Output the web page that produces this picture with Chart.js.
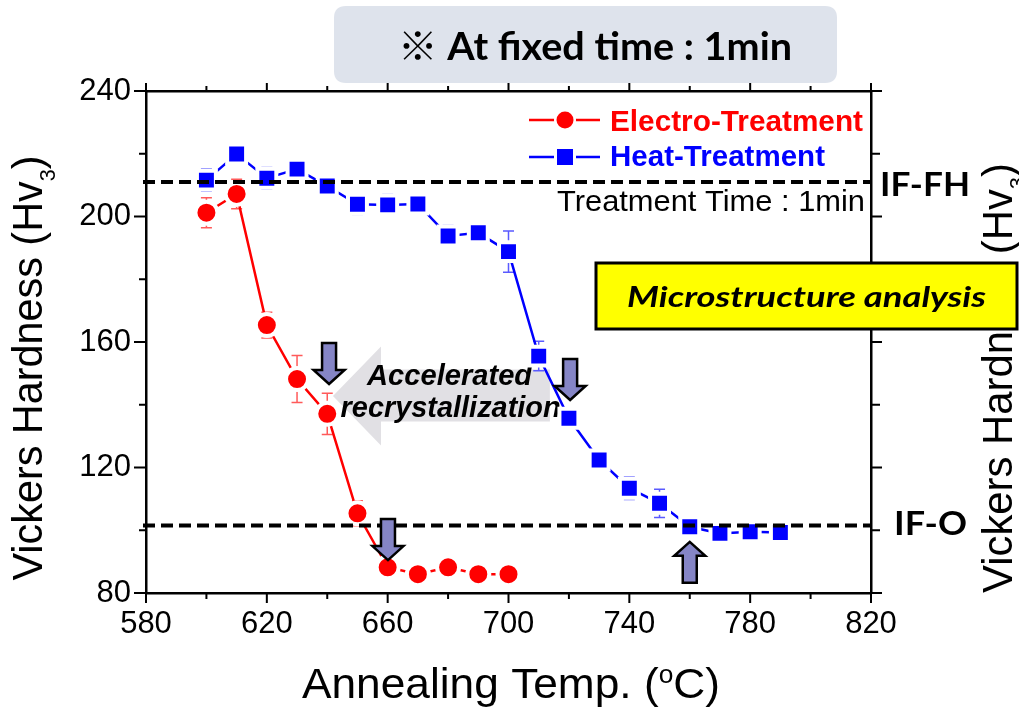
<!DOCTYPE html>
<html><head><meta charset="utf-8">
<script src="https://cdn.jsdelivr.net/npm/chart.js@4.4.1/dist/chart.umd.min.js"></script>
<style>html,body{margin:0;padding:0;background:#fff;overflow:hidden}</style>
</head><body>
<canvas id="c" width="1019" height="714" style="width:1019px;height:714px;display:block"></canvas>
<script>
// ---------- data ----------
const electroTemps = [600, 610, 620, 630, 640, 650, 660, 670, 680, 690, 700];
const electroHv    = [201.2, 207.2, 165.4, 148.2, 137.1, 105.4, 88.2, 86.0, 88.2, 86.0, 86.0];
const electroErr   = [4.8, 4.7, 4.1, 7.5, 6.6, 4.0, 0, 0, 0, 0, 0];
const heatTemps = [600, 610, 620, 630, 640, 650, 660, 670, 680, 690, 700, 710, 720, 730, 740, 750, 760, 770, 780, 790];
const heatHv    = [211.6, 219.9, 212.2, 215.1, 209.7, 203.9, 203.7, 204.0, 193.8, 194.8, 188.8, 155.5, 135.7, 122.4, 113.4, 108.6, 101.1, 99.0, 99.5, 99.3];
const heatErr   = [3.5, 0, 3.4, 3.2, 3.2, 3.3, 3.3, 0, 3.3, 0, 6.6, 4.7, 0, 0, 3.6, 4.5, 0, 0, 1.5, 0];
const xTickLabels = [580, 620, 660, 700, 740, 780, 820];
const yTickLabels = [80, 120, 160, 200, 240];
const refLevels = [211, 101.5];
const refLabels = ['IF-FH', 'IF-O'];
const seriesLabels = ['Electro-Treatment', 'Heat-Treatment'];
// annotation anchors (data units)
const smallArrows = [
  {x: 640.6, y: 146.6, dir: 'down'},
  {x: 660.1, y: 90.5, dir: 'down'},
  {x: 720.4, y: 141.5, dir: 'down'},
  {x: 760.0, y: 96.3, dir: 'up'}
];
const bigArrow = {tipX: 641.9, baseX: 657.8, endX: 713.7, y: 142.8};
const bigArrowText = ['Accelerated', 'recrystallization'];

const SANS = "'Liberation Sans', Arial, sans-serif";
const CAL = "Lato, 'Open Sans', 'Noto Sans CJK JP', 'DejaVu Sans', sans-serif";

function drawRuns(ctx, runs, x, y, opts) {
  opts = opts || {};
  let total = 0;
  runs.forEach(r => { ctx.font = r.font; r.w = ctx.measureText(r.t).width; total += r.w; });
  const sx = opts.width ? opts.width / total : 1;
  ctx.save();
  ctx.translate(x, y);
  if (opts.rot) ctx.rotate(opts.rot);
  ctx.scale(sx, 1);
  let cx = opts.align === 'center' ? -total / 2 : (opts.align === 'right' ? -total : 0);
  ctx.fillStyle = opts.color || '#000';
  ctx.textBaseline = 'alphabetic';
  ctx.textAlign = 'left';
  runs.forEach(r => { ctx.font = r.font; ctx.fillText(r.t, cx, r.dy || 0); cx += r.w; });
  ctx.restore();
}
function txt(ctx, t, x, y, font, opts) { drawRuns(ctx, [{t: t, font: font}], x, y, opts); }

function roundRect(ctx, x, y, w, h, r) {
  ctx.beginPath();
  ctx.moveTo(x + r, y);
  ctx.lineTo(x + w - r, y); ctx.quadraticCurveTo(x + w, y, x + w, y + r);
  ctx.lineTo(x + w, y + h - r); ctx.quadraticCurveTo(x + w, y + h, x + w - r, y + h);
  ctx.lineTo(x + r, y + h); ctx.quadraticCurveTo(x, y + h, x, y + h - r);
  ctx.lineTo(x, y + r); ctx.quadraticCurveTo(x, y, x + r, y);
  ctx.closePath();
}

const custom = {
  id: 'custom',
  beforeDraw(chart) {
    const ctx = chart.ctx;
    ctx.save();
    ctx.fillStyle = '#fff';
    ctx.fillRect(0, 0, chart.width, chart.height);
    // banner
    roundRect(ctx, 334, 6, 503, 77, 12);
    ctx.fillStyle = '#dee3ec';
    ctx.fill();
    txt(ctx, '\u203B At fixed time : 1min', 595, 60, 'bold 39px ' + CAL, {align: 'center', width: 394});
    ctx.restore();
  },
  beforeDatasetsDraw(chart) {
    const ctx = chart.ctx, xs = chart.scales.x, ys = chart.scales.y;
    ctx.save();
    // big gray arrow
    const tx = xs.getPixelForValue(bigArrow.tipX), bx = xs.getPixelForValue(bigArrow.baseX), ex = xs.getPixelForValue(bigArrow.endX);
    const cy = ys.getPixelForValue(bigArrow.y);
    ctx.beginPath();
    ctx.moveTo(tx, cy);
    ctx.lineTo(bx, cy - 49.5);
    ctx.lineTo(bx, cy - 26.5);
    ctx.lineTo(ex, cy - 26.5);
    ctx.lineTo(ex, cy + 25.5);
    ctx.lineTo(bx, cy + 25.5);
    ctx.lineTo(bx, cy + 49.5);
    ctx.closePath();
    ctx.fillStyle = '#e1e0e4';
    ctx.fill();
    const mx = xs.getPixelForValue(680.5);
    txt(ctx, bigArrowText[0], mx, cy - 11, 'italic bold 29px ' + SANS, {align: 'center', width: 165});
    txt(ctx, bigArrowText[1], mx + 1, cy + 21, 'italic bold 29px ' + SANS, {align: 'center', width: 220});
    // error bars
    const drawErr = (di, errs, color) => {
      const meta = chart.getDatasetMeta(di);
      const d = chart.data.datasets[di].data;
      ctx.strokeStyle = color;
      ctx.lineWidth = 1.5;
      meta.data.forEach((pt, i) => {
        const e = errs[i];
        if (!e) return;
        const yt = ys.getPixelForValue(d[i].y + e), yb = ys.getPixelForValue(d[i].y - e);
        ctx.beginPath();
        ctx.moveTo(pt.x, yt); ctx.lineTo(pt.x, yb);
        ctx.moveTo(pt.x - 5.5, yt); ctx.lineTo(pt.x + 5.5, yt);
        ctx.moveTo(pt.x - 5.5, yb); ctx.lineTo(pt.x + 5.5, yb);
        ctx.stroke();
      });
    };
    drawErr(0, electroErr, '#ff5a5a');
    drawErr(1, heatErr, '#5a5aff');
    ctx.restore();
  },
  afterDatasetsDraw(chart) {
    const ctx = chart.ctx, xs = chart.scales.x, ys = chart.scales.y, a = chart.chartArea;
    ctx.save();
    // reference lines
    ctx.strokeStyle = '#000';
    ctx.lineWidth = 4;
    ctx.setLineDash([12, 6]);
    refLevels.forEach(v => {
      const py = ys.getPixelForValue(v);
      ctx.beginPath(); ctx.moveTo(a.left - 3, py); ctx.lineTo(a.right, py); ctx.stroke();
    });
    ctx.setLineDash([]);
    // small arrows
    smallArrows.forEach(s => {
      const cx = xs.getPixelForValue(s.x), ty = ys.getPixelForValue(s.y);
      const k = s.dir === 'down' ? -1 : 1;
      ctx.beginPath();
      ctx.moveTo(cx - 7, ty + k * 41);
      ctx.lineTo(cx + 7, ty + k * 41);
      ctx.lineTo(cx + 7, ty + k * 14);
      ctx.lineTo(cx + 15.5, ty + k * 14);
      ctx.lineTo(cx, ty);
      ctx.lineTo(cx - 15.5, ty + k * 14);
      ctx.lineTo(cx - 7, ty + k * 14);
      ctx.closePath();
      ctx.fillStyle = '#8585c6';
      ctx.fill();
      ctx.strokeStyle = '#000';
      ctx.lineWidth = 2.5;
      ctx.lineJoin = 'miter';
      ctx.stroke();
    });
    ctx.restore();
  },
  afterDraw(chart) {
    const ctx = chart.ctx, xs = chart.scales.x, ys = chart.scales.y, a = chart.chartArea;
    ctx.save();
    // tick marks on all four sides
    ctx.strokeStyle = '#000';
    ctx.lineWidth = 2;
    xs.ticks.forEach(t => {
      const px = xs.getPixelForValue(t.value);
      const major = xTickLabels.includes(t.value);
      ctx.beginPath();
      ctx.moveTo(px, a.bottom); ctx.lineTo(px, a.bottom + (major ? 10 : 6));
      ctx.moveTo(px, a.top); ctx.lineTo(px, a.top - (major ? 8 : 5));
      ctx.stroke();
    });
    ys.ticks.forEach(t => {
      const py = ys.getPixelForValue(t.value);
      const major = yTickLabels.includes(t.value);
      ctx.beginPath();
      ctx.moveTo(a.left, py); ctx.lineTo(a.left - (major ? 12 : 7), py);
      ctx.moveTo(a.right, py); ctx.lineTo(a.right + (major ? 11 : 9), py);
      ctx.stroke();
    });
    // legend
    const ds = chart.data.datasets;
    const legendRows = [{y: 120, base: 131, w: 253}, {y: 157, base: 166, w: 215}];
    ds.forEach((d, i) => {
      const r = legendRows[i];
      ctx.strokeStyle = d.borderColor;
      ctx.lineWidth = 2.5;
      ctx.beginPath(); ctx.moveTo(529, r.y); ctx.lineTo(600, r.y); ctx.stroke();
      ctx.fillStyle = '#fff';
      if (i === 0) {
        ctx.beginPath(); ctx.arc(565, r.y, 11, 0, Math.PI * 2); ctx.fill();
        ctx.fillStyle = d.borderColor;
        ctx.beginPath(); ctx.arc(565, r.y, 8.5, 0, Math.PI * 2); ctx.fill();
      } else {
        ctx.fillRect(565 - 11, r.y - 11, 22, 22);
        ctx.fillStyle = d.borderColor;
        ctx.fillRect(565 - 8, r.y - 8, 16, 16);
      }
      txt(ctx, d.label, 610, r.base, 'bold 29.5px ' + SANS, {width: r.w, color: d.borderColor});
    });
    txt(ctx, 'Treatment Time : 1min', 865, 211, '30px ' + SANS, {align: 'right', width: 308});
    // IF labels
    const fh = ys.getPixelForValue(refLevels[0]), fo = ys.getPixelForValue(refLevels[1]);
    txt(ctx, refLabels[0], 880, fh + 14, 'bold 33px ' + CAL, {width: 90});
    txt(ctx, refLabels[1], 894, fo + 9.5, 'bold 33px ' + CAL, {width: 73});
    // axis titles
    const T = '42px ' + SANS, S = '22px ' + SANS;
    drawRuns(ctx, [{t: 'Vickers Hardness (Hv', font: T}, {t: '3', font: S, dy: 13}, {t: ')', font: T}],
      42, 368, {align: 'center', rot: -Math.PI / 2, width: 425});
    drawRuns(ctx, [{t: 'Vickers Hardness (Hv', font: T}, {t: '3', font: S, dy: 13}, {t: ')', font: T}],
      1012, 378, {align: 'center', rot: -Math.PI / 2, width: 430});
    drawRuns(ctx, [{t: 'Annealing Temp. (', font: T}, {t: 'o', font: '25px ' + SANS, dy: -15}, {t: 'C)', font: T}],
      302, 698, {width: 418});
    // yellow box
    ctx.fillStyle = '#ffff00';
    ctx.fillRect(596, 263, 421, 66);
    ctx.strokeStyle = '#000';
    ctx.lineWidth = 3;
    ctx.strokeRect(596, 263, 421, 66);
    txt(ctx, 'Microstructure analysis', 806.5, 307, 'italic bold 28px ' + CAL, {align: 'center', width: 359});
    ctx.restore();
  }
};

Chart.defaults.font.family = SANS;
Chart.defaults.color = '#000';

const axisBorder = {display: true, color: '#000', width: 2.5};
new Chart(document.getElementById('c'), {
  type: 'line',
  data: {
    datasets: [
      {
        label: seriesLabels[0],
        data: electroTemps.map((t, i) => ({x: t, y: electroHv[i]})),
        borderColor: '#ff0000', backgroundColor: '#ff0000', borderWidth: 2.5,
        pointStyle: 'circle', pointRadius: 11, pointBorderWidth: 4,
        pointBorderColor: '#ffffff', pointBackgroundColor: '#ff0000', tension: 0
      },
      {
        label: seriesLabels[1],
        data: heatTemps.map((t, i) => ({x: t, y: heatHv[i]})),
        borderColor: '#0000ff', backgroundColor: '#0000ff', borderWidth: 2.5,
        pointStyle: 'rect', pointRadius: 13.4, pointBorderWidth: 4,
        pointBorderColor: '#ffffff', pointBackgroundColor: '#0000ff', tension: 0
      }
    ]
  },
  options: {
    responsive: false,
    animation: false,
    devicePixelRatio: 1,
    events: [],
    layout: {padding: 0},
    plugins: {legend: {display: false}, tooltip: {enabled: false}},
    scales: {
      x: {
        type: 'linear', position: 'bottom', min: 580, max: 820,
        ticks: {stepSize: 20, autoSkip: false, maxRotation: 0, padding: 13,
          font: {size: 31, family: SANS}, color: '#000',
          callback: v => xTickLabels.includes(v) ? String(v) : ''},
        grid: {display: false, drawTicks: false},
        border: axisBorder,
        afterFit(s) { s.height = 121; }
      },
      x2: {
        type: 'linear', position: 'top', min: 580, max: 820,
        ticks: {display: false, stepSize: 20},
        grid: {display: false, drawTicks: false},
        border: axisBorder,
        afterFit(s) { s.height = 91; }
      },
      y: {
        type: 'linear', position: 'left', min: 80, max: 240,
        ticks: {stepSize: 20, autoSkip: false, padding: 15,
          font: {size: 31, family: SANS}, color: '#000',
          callback: v => yTickLabels.includes(v) ? String(v) : ''},
        grid: {display: false, drawTicks: false},
        border: axisBorder,
        afterFit(s) { s.width = 146; }
      },
      y2: {
        type: 'linear', position: 'right', min: 80, max: 240,
        ticks: {display: false, stepSize: 20},
        grid: {display: false, drawTicks: false},
        border: axisBorder,
        afterFit(s) { s.width = 148; }
      }
    }
  },
  plugins: [custom]
});
</script>
</body></html>
